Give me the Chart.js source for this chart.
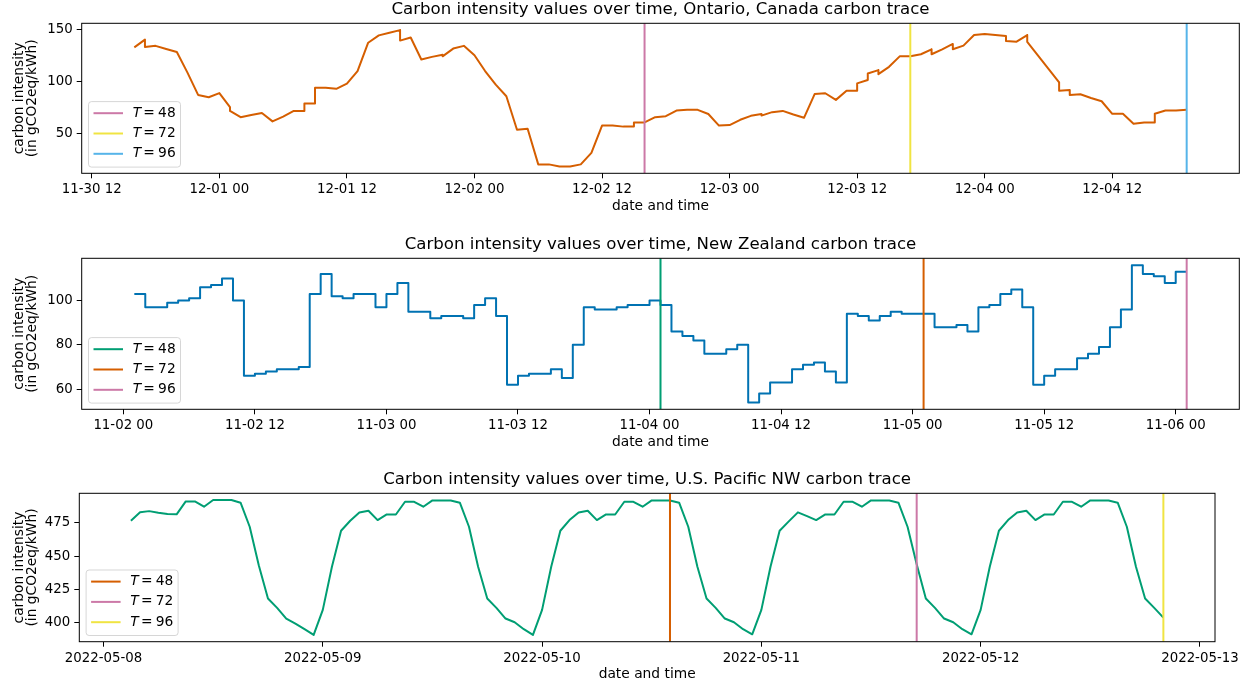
<!DOCTYPE html>
<html><head><meta charset="utf-8">
<script src="https://cdn.jsdelivr.net/npm/chart.js@4.4.0/dist/chart.umd.min.js"></script>
<style>
html,body{margin:0;padding:0;background:#fff;}
#wrap{position:relative;width:1250px;height:688px;overflow:hidden;background:#fff;}
canvas{position:absolute;left:0;}
</style></head><body>
<div id="wrap">
<canvas id="c1" width="1250" height="235" style="top:-10px;width:1250px;height:235px"></canvas>
<canvas id="c2" width="1250" height="235" style="top:225px;width:1250px;height:235px"></canvas>
<canvas id="c3" width="1250" height="228" style="top:460px;width:1250px;height:228px"></canvas>
</div>
<script>
// ---------------- DATA ----------------
// Ontario: hours since 11-30 00:00 (repeated hour = two samples at the same time)
const ontarioHours = [16,17,17,18,19,20,21,22,23,24,25,25,26,27,28,29,30,31,32,32,33,33,34,35,36,37,38,39,40,41,41,42,43,44,45,45,46,47,48,49,50,51,52,53,54,55,56,57,58,59,60,61,62,63,63,64,65,66,67,68,69,70,71,72,73,74,75,75,76,77,78,79,80,81,82,83,84,84,85,85,86,86,87,88,89,90,91,91,92,93,93,94,95,96,97,98,98,99,100,100,101,102,103,103,104,104,105,106,107,108,109,110,111,112,112,113,114,115];
const ontarioValues = [132.6,139.9,133,134,131,128.2,108.5,87.2,85,89,75.5,72,66,68,70,62,66.6,72,72,79,79,94,94,93,98,110,137,144,146.5,149,139,142,121,123.5,125.5,124,131.4,134,125,110,97,86,54,55,21,21,19,19,21,32,58,58,57,57,61,61,66,67,72.3,73,73,69,58,58.5,63.5,67.3,69,67.5,70.8,72,68.5,65.4,88,88.8,82.5,91.3,91.3,98.2,101.4,107.7,110.9,107,114,124,124,126,130.7,126,130.7,135.8,130.7,134.2,144.3,145.3,144.3,143.4,138.6,138,144.3,137.7,124.9,112.1,99.2,91.3,92,87.2,87.8,84.3,81.2,69.2,69.2,59.7,61,61,69.2,72.3,72.3,73];
const ontarioMarkerHours = [64, 89, 115];
const ontarioTickHours = [12,24,36,48,60,72,84,96,108];
const ontarioTickLabels = ['11-30 12','12-01 00','12-01 12','12-02 00','12-02 12','12-03 00','12-03 12','12-04 00','12-04 12'];
const ontarioYTicks = [50,100,150];

// New Zealand: hourly values, first sample at hour 1 after 11-02 00:00
const nzStartHour = 1;
const nzValues = [103,97,97,99,100,101,106,107,110,100,
  66,67,68,69,69,70,103,112,102,101,
  103,103,97,103,108,95,95,92,93,93,
  92,98,101,93,62,66,67,67,69,65,
  80,97,96,96,97,98,98,100,98,86,
  84,82,76,76,78,80,54,58,63,63,
  69,71,72,68,63,94,93,91,93,95,
  94,94,94,88,88,89,86,97,98,103,
  105,97,62,66,69,69,74,76,79,88,
  96,116,112,111,108,113,113];
const nzMarkerHours = [49, 73, 97];
const nzTickHours = [0,12,24,36,48,60,72,84,96];
const nzTickLabels = ['11-02 00','11-02 12','11-03 00','11-03 12','11-04 00','11-04 12','11-05 00','11-05 12','11-06 00'];
const nzYTicks = [60,80,100];

// U.S. Pacific NW: hourly values, first sample at hour 3 after 2022-05-08 00:00
const pnwStartHour = 3;
const pnwValues = [476.5,482.8,483.7,482.5,481.5,481.3,491,491,487,492,
  492,492,490,472,443,418.3,411.3,403.3,399.5,395.3,
  391,409.8,442,469,476.5,482.7,484,477,481.2,481.2,
  490.7,490.7,487,491.7,491.7,491.7,490,472,442,418.3,
  411.3,403.3,400.5,395.3,391,409.8,442,469,477,482.7,
  484,477,481.2,481.2,490.7,490.7,487,491.7,491.7,491.7,
  490,472,442,418.3,411.3,403.3,400.5,395.3,391.5,409.8,
  442,469,476,482.8,480,477,481.2,481.2,490.7,490.7,
  487,491.7,491.7,491.7,490,472,444,418.3,411.3,403.3,
  400.5,395.3,391.5,409.8,442,469,477,482.7,484,477,
  481.2,481.2,490.7,490.7,487,491.7,491.7,491.7,490,472,
  442,418.3,411.3,404];
const pnwMarkerHours = [62, 89, 116];
const pnwTickHours = [0,24,48,72,96,120];
const pnwTickLabels = ['2022-05-08','2022-05-09','2022-05-10','2022-05-11','2022-05-12','2022-05-13'];
const pnwYTicks = [400,425,450,475];

const tValues = [48, 72, 96];

// ---------------- RENDERING ----------------
const FONT = "'DejaVu Sans', sans-serif";
Chart.defaults.font.family = FONT;
Chart.defaults.color = '#000';

function pts(hours, values) { return values.map((v, i) => ({x: hours[i], y: v})); }
function hourlyPts(start, values) { return values.map((v, i) => ({x: start + i, y: v})); }
function margins(arr) { const mn = Math.min(...arr), mx = Math.max(...arr), r = mx - mn; return [mn - 0.05 * r, mx + 0.05 * r]; }

const framePlugin = {
  id: 'frame',
  afterDatasetsDraw(chart) {
    const a = chart.chartArea, ctx = chart.ctx;
    ctx.save();
    ctx.strokeStyle = '#000'; ctx.lineWidth = 1;
    ctx.strokeRect(a.left, a.top, a.right - a.left, a.bottom - a.top);
    ctx.restore();
  }
};

const legendPlugin = {
  id: 'tLegend',
  afterDraw(chart, args, o) {
    const ctx = chart.ctx, a = chart.chartArea;
    const items = chart.data.datasets.filter(d => d.isMarker);
    const bw = 92, bh = 65.5;
    const bx = a.left + 6.8, by = a.bottom - 6.2 - bh;
    ctx.save();
    ctx.beginPath();
    if (ctx.roundRect) ctx.roundRect(bx, by, bw, bh, 3); else ctx.rect(bx, by, bw, bh);
    ctx.fillStyle = 'rgba(255,255,255,0.8)'; ctx.fill();
    ctx.strokeStyle = 'rgba(204,204,204,0.8)'; ctx.lineWidth = 1; ctx.stroke();
    items.forEach((d, i) => {
      const y = by + 11.6 + i * 20.3;
      ctx.strokeStyle = d.borderColor; ctx.lineWidth = 2;
      ctx.beginPath(); ctx.moveTo(bx + 5, y); ctx.lineTo(bx + 34.5, y); ctx.stroke();
      ctx.fillStyle = '#000'; ctx.textBaseline = 'middle'; ctx.textAlign = 'left';
      ctx.font = "oblique 13.8px " + FONT;
      ctx.fillText('T', bx + 44.2, y);
      ctx.font = "13.8px " + FONT;
      ctx.fillText('=', bx + 54.8, y);
      ctx.fillText(String(d.tValue), bx + 69.6, y);
    });
    ctx.restore();
  }
};

function buildPanel(id, p) {
  const canvas = document.getElementById(id);
  const canvasH = canvas.height;
  const titleSize = 16.6, lhTitle = titleSize * 1.2;
  const areaTop = 33.3;
  const xAxisH = 41.3;
  const padTop = areaTop - 13.74 - lhTitle / 2;
  const titleBottom = areaTop - padTop - lhTitle;
  const [xMin, xMax] = margins(p.points.map(q => q.x));
  const [yMin, yMax] = margins(p.points.map(q => q.y));
  const datasets = p.markerHours.map((h, i) => ({
    label: 'T = ' + tValues[i], tValue: tValues[i], isMarker: true,
    data: [{x: h, y: yMin}, {x: h, y: yMax}],
    borderColor: p.markerColors[i], borderWidth: 2, pointRadius: 0, order: 0
  }));
  datasets.push({
    label: 'trace', data: p.points, borderColor: p.color, borderWidth: 2,
    pointRadius: 0, stepped: p.stepped || false, order: 1,
    borderJoinStyle: 'round', tension: 0
  });
  return new Chart(canvas, {
    type: 'line',
    data: {datasets},
    options: {
      responsive: false, animation: false, devicePixelRatio: 1,
      events: [],
      layout: {autoPadding: false, padding: {left: 0, right: 1250 - p.areaRight, top: padTop, bottom: canvasH - p.areaBottom - xAxisH}},
      plugins: {
        legend: {display: false}, tooltip: {enabled: false},
        title: {display: true, text: p.title, fullSize: false, color: '#000',
          font: {size: titleSize, weight: 'normal', lineHeight: 1.2},
          padding: {top: 0, bottom: titleBottom}}
      },
      scales: {
        x: {
          type: 'linear', min: xMin, max: xMax,
          afterBuildTicks: s => { s.ticks = p.xTicks.map(v => ({value: v})); },
          afterFit: s => { s.height = xAxisH; },
          ticks: {autoSkip: false, maxRotation: 0, padding: 3.5, color: '#000',
            font: {size: 13.33},
            callback: (v, i) => p.xTickLabels[i]},
          grid: {drawOnChartArea: false, drawTicks: true, tickLength: 5, color: '#000', lineWidth: 1},
          border: {display: false},
          title: {display: true, text: 'date and time', color: '#000',
            font: {size: 13.8, lineHeight: 1.2}, padding: {top: 0, bottom: 0}}
        },
        y: {
          type: 'linear', min: yMin, max: yMax,
          afterBuildTicks: s => { s.ticks = p.yTicks.map(v => ({value: v})); },
          afterFit: s => { s.width = p.areaLeft; },
          ticks: {padding: 4, color: '#000', font: {size: 13.33}},
          grid: {drawOnChartArea: false, drawTicks: true, tickLength: 5, color: '#000', lineWidth: 1},
          border: {display: false},
          title: {display: true, text: ['carbon intensity', '(in gCO2eq/kWh)'], color: '#000',
            font: {size: 13.8, lineHeight: 1.0}, padding: {top: 12.1, bottom: 0}}
        }
      }
    },
    plugins: [framePlugin, legendPlugin]
  });
}

buildPanel('c1', {
  title: 'Carbon intensity values over time, Ontario, Canada carbon trace',
  points: pts(ontarioHours, ontarioValues), color: '#D55E00',
  markerHours: ontarioMarkerHours, markerColors: ['#CC79A7', '#F0E442', '#56B4E9'],
  xTicks: ontarioTickHours, xTickLabels: ontarioTickLabels, yTicks: ontarioYTicks,
  areaLeft: 81.7, areaRight: 1239.3, areaBottom: 183.3
});
buildPanel('c2', {
  title: 'Carbon intensity values over time, New Zealand carbon trace',
  points: hourlyPts(nzStartHour, nzValues), color: '#0072B2', stepped: 'before',
  markerHours: nzMarkerHours, markerColors: ['#009E73', '#D55E00', '#CC79A7'],
  xTicks: nzTickHours, xTickLabels: nzTickLabels, yTicks: nzYTicks,
  areaLeft: 81.7, areaRight: 1239.3, areaBottom: 184.3
});
buildPanel('c3', {
  title: 'Carbon intensity values over time, U.S. Pacific NW carbon trace',
  points: hourlyPts(pnwStartHour, pnwValues), color: '#009E73',
  markerHours: pnwMarkerHours, markerColors: ['#D55E00', '#CC79A7', '#F0E442'],
  xTicks: pnwTickHours, xTickLabels: pnwTickLabels, yTicks: pnwYTicks,
  areaLeft: 79.3, areaRight: 1215, areaBottom: 181.7
});
</script>
</body></html>
